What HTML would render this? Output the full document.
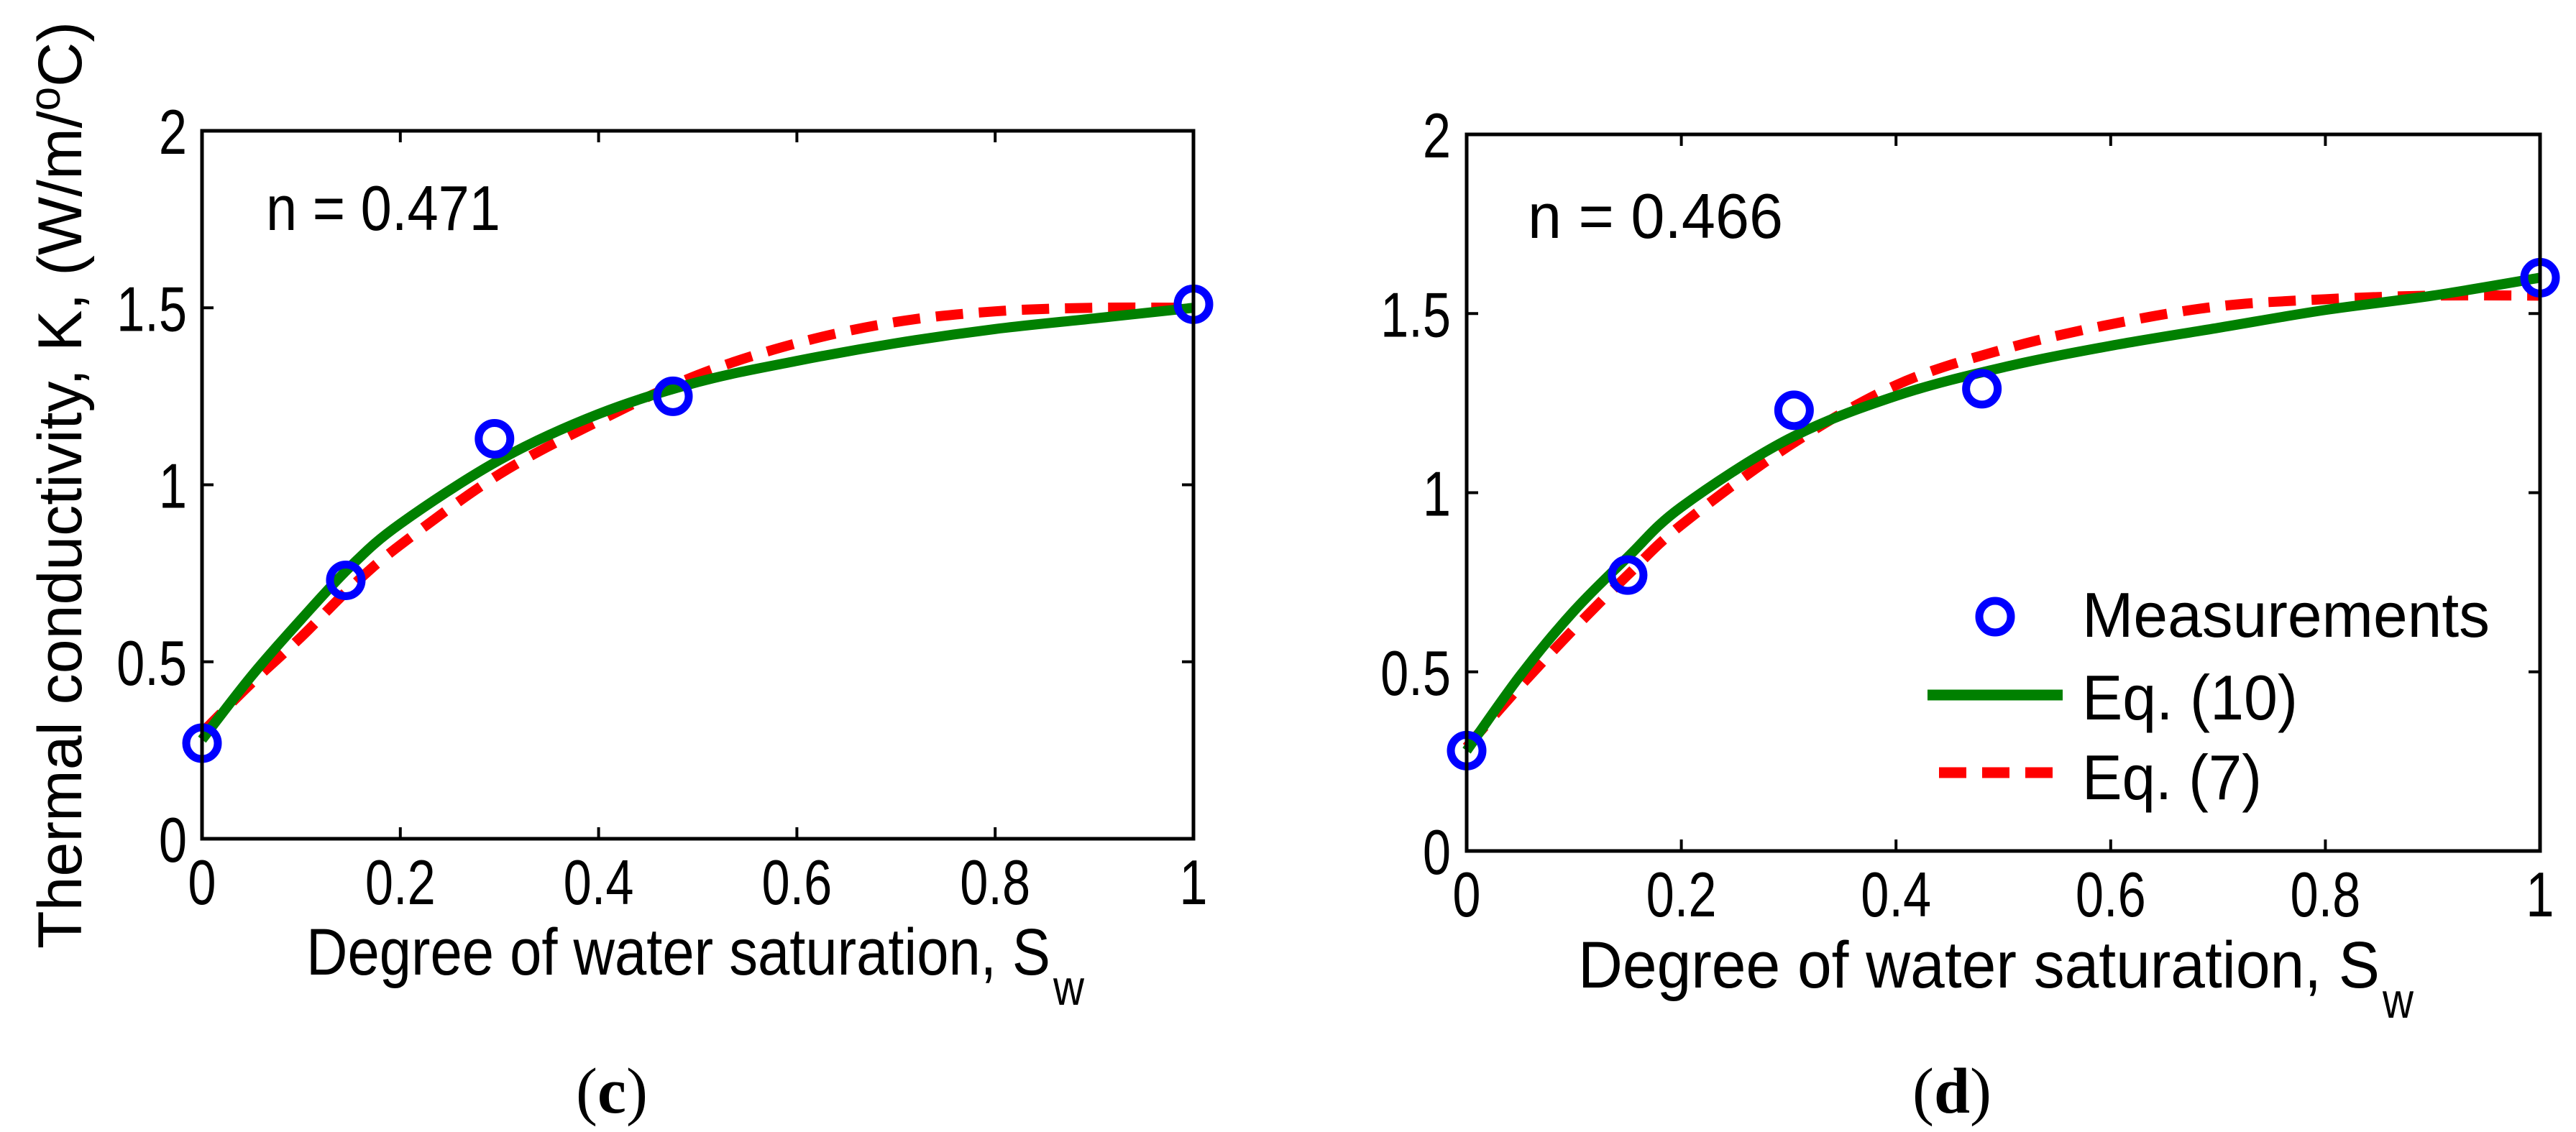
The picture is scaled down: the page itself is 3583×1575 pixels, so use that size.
<!DOCTYPE html>
<html><head><meta charset="utf-8"><style>
html,body{margin:0;padding:0;background:#fff;}
svg{display:block;}
text{font-family:"Liberation Sans",sans-serif;fill:#000;}
</style></head><body>
<svg id="fig" width="3583" height="1575" viewBox="0 0 3583 1575" xmlns="http://www.w3.org/2000/svg"></svg>
<script>
const xTicks = [0, 0.2, 0.4, 0.6, 0.8, 1];
const xTickLabels = ["0", "0.2", "0.4", "0.6", "0.8", "1"];
const yTicks = [0, 0.5, 1, 1.5, 2];
const yTickLabels = ["0", "0.5", "1", "1.5", "2"];
const curveX = [0, 0.05, 0.1, 0.15, 0.2, 0.3, 0.4, 0.5, 0.6, 0.7, 0.8, 0.9, 1.0];
const measXc = [0, 0.145, 0.295, 0.475, 1.0];
const measYc = [0.27, 0.73, 1.13, 1.25, 1.51];
const eq10c = [0.28, 0.46, 0.62, 0.77, 0.89, 1.07, 1.20, 1.29, 1.35, 1.40, 1.44, 1.47, 1.50];
const eq7c = [0.30, 0.44, 0.57, 0.71, 0.83, 1.03, 1.18, 1.31, 1.40, 1.46, 1.49, 1.50, 1.50];
const measXd = [0, 0.15, 0.305, 0.48, 1.0];
const measYd = [0.28, 0.77, 1.23, 1.29, 1.60];
const eq10d = [0.28, 0.49, 0.67, 0.82, 0.96, 1.15, 1.27, 1.35, 1.41, 1.46, 1.51, 1.55, 1.60];
const eq7d = [0.29, 0.46, 0.62, 0.77, 0.91, 1.13, 1.30, 1.40, 1.47, 1.52, 1.54, 1.55, 1.55];

const NS = "http://www.w3.org/2000/svg";
const svg = document.getElementById("fig");
function mk(tag, attrs, parent) {
  const e = document.createElementNS(NS, tag);
  for (const k in attrs) e.setAttribute(k, attrs[k]);
  (parent || svg).appendChild(e);
  return e;
}
function squeeze(t, f) { const w = t.getComputedTextLength(); t.setAttribute("textLength", w * f); t.setAttribute("lengthAdjust", "spacingAndGlyphs"); }
function smoothPath(pts) {
  let d = "M" + pts[0][0] + "," + pts[0][1];
  for (let i = 0; i < pts.length - 1; i++) {
    const p0 = pts[Math.max(0, i - 1)], p1 = pts[i], p2 = pts[i + 1], p3 = pts[Math.min(pts.length - 1, i + 2)];
    const c1 = [p1[0] + (p2[0] - p0[0]) / 6, p1[1] + (p2[1] - p0[1]) / 6];
    const c2 = [p2[0] - (p3[0] - p1[0]) / 6, p2[1] - (p3[1] - p1[1]) / 6];
    d += " C" + c1[0] + "," + c1[1] + " " + c2[0] + "," + c2[1] + " " + p2[0] + "," + p2[1];
  }
  return d;
}

function panel(cfg) {
  const g = mk("g", {});
  
  
  const L = cfg.l, R = cfg.r, T = cfg.t, B = cfg.b;
  const sx = v => L + (R - L) * v;
  const sy = v => B - (B - T) * v / 2;
  xTicks.forEach((v, i) => {
    const x = sx(v);
    const t1 = mk("line", {x1: x, x2: x, y1: B, y2: B - 16, stroke: "#000", "stroke-width": 4}, g);
    
    
    const t2 = mk("line", {x1: x, x2: x, y1: T, y2: T + 16, stroke: "#000", "stroke-width": 4}, g);
    
    
    const tl = mk("text", {x: x, y: cfg.xtb, "font-size": 88, "text-anchor": "middle"}, g);
    tl.textContent = xTickLabels[i];
    
    
    squeeze(tl, 0.8);
  });
  yTicks.forEach((v, i) => {
    const y = sy(v);
    const t1 = mk("line", {x1: L, x2: L + 16, y1: y, y2: y, stroke: "#000", "stroke-width": 4}, g);
    
    
    const t2 = mk("line", {x1: R, x2: R - 16, y1: y, y2: y, stroke: "#000", "stroke-width": 4}, g);
    
    
    const tl = mk("text", {x: cfg.ytr, y: y + 32, "font-size": 88, "text-anchor": "end"}, g);
    tl.textContent = yTickLabels[i];
    
    
    squeeze(tl, 0.8);
  });
  const red = mk("path", {d: smoothPath(curveX.map((v, i) => [sx(v), sy(cfg.eq7[i])])), fill: "none", stroke: "#ff0000", "stroke-width": 14, "stroke-dasharray": "38,22"}, g);
  
  
  const green = mk("path", {d: smoothPath(curveX.map((v, i) => [sx(v), sy(cfg.eq10[i])])), fill: "none", stroke: "#008000", "stroke-width": 14}, g);
  
  
  cfg.mx.forEach((v, i) => {
    const c = mk("ellipse", {cx: sx(v), cy: sy(cfg.my[i]), rx: 22, ry: 22, fill: "none", stroke: "#0000ff", "stroke-width": 11}, g);
    
    
  });
  const fr = mk("rect", {x: L, y: T, width: R - L, height: B - T, fill: "none", stroke: "#000", "stroke-width": 5}, g);
  
  
  const n = mk("text", {x: cfg.nx, y: cfg.ny, "font-size": 88}, g);
  n.textContent = cfg.ntext;
  
  
  n.setAttribute("textLength", cfg.nw); n.setAttribute("lengthAdjust", "spacingAndGlyphs");
  const xl = mk("text", {x: cfg.xlx, y: cfg.xly, "font-size": 92}, g);
  
  
  xl.textContent = "Degree of water saturation, S";
  xl.setAttribute("textLength", cfg.xlw); xl.setAttribute("lengthAdjust", "spacingAndGlyphs");
  const sub = mk("text", {x: cfg.xlx + cfg.xlw + 4, y: cfg.xly + 42, "font-size": 70}, g);
  sub.textContent = "w";
  
  
  squeeze(sub, 0.85);
  const cap = mk("text", {x: cfg.capx, y: 1548, "font-size": 90, "text-anchor": "middle", style: "font-family:'Liberation Serif',serif"}, g);
  cap.innerHTML = "(<tspan font-weight='bold'>" + cfg.cap + "</tspan>)";
  
  
  return {g, sx, sy};
}

panel({name: "panel-c", l: 281, r: 1660, t: 182, b: 1167, xtb: 1258, ytr: 260,
  eq10: eq10c, eq7: eq7c, mx: measXc, my: measYc, ntext: "n = 0.471", nx: 370, ny: 320, nw: 326,
  xlx: 426, xly: 1356, xlw: 1035, capx: 851, cap: "c"});
panel({name: "panel-d", l: 2040, r: 3533, t: 187, b: 1184, xtb: 1275, ytr: 2018,
  eq10: eq10d, eq7: eq7d, mx: measXd, my: measYd, ntext: "n = 0.466", nx: 2125, ny: 331, nw: 355,
  xlx: 2195, xly: 1374, xlw: 1115, capx: 2715, cap: "d"});

const yl = mk("text", {x: 0, y: 0, "font-size": 86, "text-anchor": "middle", transform: "translate(113,675) rotate(-90)"});


yl.innerHTML = "Thermal conductivity, K, (W/m/<tspan dy='-30' font-size='60'>o</tspan><tspan dy='30'>C)</tspan>";
yl.setAttribute("textLength", 1290); yl.setAttribute("lengthAdjust", "spacingAndGlyphs");

const lg = mk("g", {});


const lm = mk("ellipse", {cx: 2775, cy: 858, rx: 22, ry: 22, fill: "none", stroke: "#0000ff", "stroke-width": 11}, lg);


const lgl = mk("line", {x1: 2681, x2: 2869, y1: 967, y2: 967, stroke: "#008000", "stroke-width": 15}, lg);


const lrl = mk("line", {x1: 2697, x2: 2869, y1: 1075, y2: 1075, stroke: "#ff0000", "stroke-width": 15, "stroke-dasharray": "38,22"}, lg);


[["Measurements", 886, 567], ["Eq. (10)", 1001, 300], ["Eq. (7)", 1112, 250]].forEach(a => {
  const t = mk("text", {x: 2896, y: a[1], "font-size": 88}, lg);
  t.textContent = a[0];
  
  
  t.setAttribute("textLength", a[2]); t.setAttribute("lengthAdjust", "spacingAndGlyphs");
});
</script>
</body></html>
